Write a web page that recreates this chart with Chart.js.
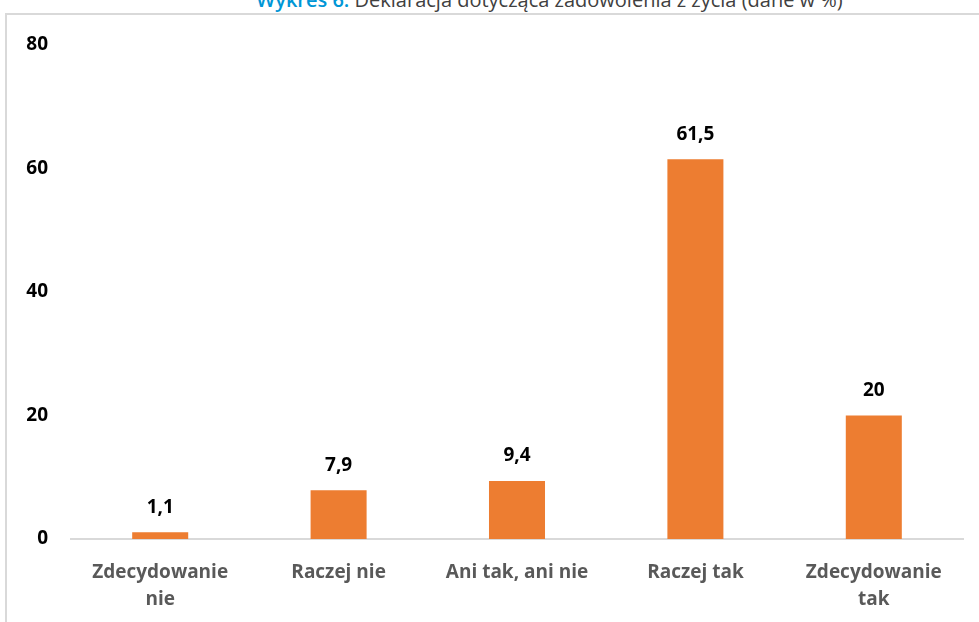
<!DOCTYPE html>
<html lang="pl">
<head>
<meta charset="utf-8">
<title>Wykres 6</title>
<script src="https://cdn.jsdelivr.net/npm/chart.js@4"></script>
<style>
    html, body { margin: 0; padding: 0; background: #fff; overflow: hidden; }
    body { width: 979px; height: 622px; position: relative; }
    .tytul {
        position: absolute; left: 60px; top: -10px; width: 979px;
        text-align: center; font-family: "Open Sans", sans-serif;
        font-size: 20px; line-height: 20px; color: #404040; white-space: nowrap;
    }
    .tytul b { color: #0096d6; font-weight: 600; }
    .ramka {
        position: absolute; left: 5px; top: 13px; width: 972px; height: 607px;
        border-left: 2px solid #d9d9d9; border-top: 2px solid #d9d9d9;
    }
    .ramka canvas { display: block; }
</style>
</head>
<body>
<div class="tytul"><b>Wykres 6.</b> Deklaracja dotycząca zadowolenia z życia (dane w %)</div>
<div class="ramka"><canvas id="zadowolenieChart" width="972" height="607"></canvas></div>
<script>
const kategorie = [['Zdecydowanie', 'nie'], 'Raczej nie', 'Ani tak, ani nie', 'Raczej tak', ['Zdecydowanie', 'tak']];
const wartosci = [1.1, 7.9, 9.4, 61.5, 20];
const osY = { min: 0, max: 80, krok: 20 };

const czcionka = '"Open Sans", sans-serif';

// etykiety nad słupkami, z przecinkiem dziesiętnym
const etykietyPlugin = {
    id: 'etykiety',
    afterDatasetsDraw(chart) {
        const ctx = chart.ctx;
        const meta = chart.getDatasetMeta(0);
        ctx.save();
        ctx.font = 'bold 19px ' + czcionka;
        ctx.fillStyle = '#000';
        ctx.textAlign = 'center';
        ctx.textBaseline = 'middle';
        meta.data.forEach((bar, i) => {
            const txt = String(wartosci[i]).replace('.', ',');
            ctx.fillText(txt, bar.x, bar.y - 25);
        });
        ctx.restore();
    }
};

const ctx = document.getElementById('zadowolenieChart').getContext('2d');
new Chart(ctx, {
    type: 'bar',
    data: {
        labels: kategorie,
        datasets: [{
            data: wartosci,
            backgroundColor: '#ed7d31',
            borderWidth: 0,
            barPercentage: 0.314,
            categoryPercentage: 1
        }]
    },
    options: {
        responsive: false,
        animation: false,
        layout: { padding: { top: 22, left: 18, right: 16, bottom: -11 } },
        plugins: { legend: { display: false }, tooltip: { enabled: false } },
        scales: {
            x: {
                grid: { display: false, drawTicks: false },
                border: { display: true, color: '#d9d9d9', width: 2 },
                ticks: {
                    padding: 20,
                    color: '#595959',
                    font: { family: czcionka, size: 19, weight: 'bold', lineHeight: 1.42 },
                    maxRotation: 0,
                    autoSkip: false
                }
            },
            y: {
                min: osY.min,
                max: osY.max,
                grid: { display: false, drawTicks: false },
                border: { display: false },
                // stała szerokość osi i odstęp od góry
                afterFit(scale) {
                    scale.width = 46;
                    scale.paddingTop = 30;
                },
                ticks: {
                    stepSize: osY.krok,
                    padding: 23,
                    color: '#000',
                    font: { family: czcionka, size: 19, weight: 'bold' }
                }
            }
        }
    },
    plugins: [etykietyPlugin]
});
</script>
</body>
</html>
